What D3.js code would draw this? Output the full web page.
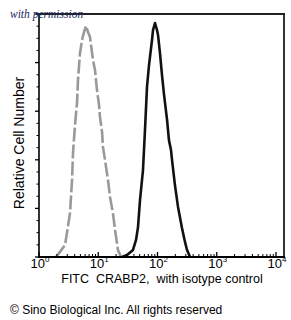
<!DOCTYPE html>
<html><head><meta charset="utf-8">
<script src="https://cdn.jsdelivr.net/npm/d3@7"></script>
<style>
html,body{margin:0;padding:0;background:#fff;}
svg{display:block;}
</style></head>
<body>
<script>
// Isotype control (grey dashed): fluorescence and relative count
const isoX = [1.94,2.26,2.75,3.34,3.61,3.75,4.05,4.38,4.55,4.92,5.32,5.75,6.21,6.71,7.26,7.55,8.15,8.81,9.16,9.53,10.3,10.7,11.6,12.0,13.0,14.6,15.8,17.7,19.2,21.5,24.2];
const isoY = [0,2.1,4.9,18.1,31.7,42.8,54.3,63.4,72.8,83.9,89.3,92.6,95.1,92.6,90.5,87.2,81.1,77.0,72.8,68.7,62.6,57.6,51.4,45.3,39.9,31.7,24.7,18.1,11.1,2.9,0];
// CRABP2 (black solid)
const crX = [25.2,30.6,38.6,43.4,46.9,50.7,56.9,61.5,66.5,71.9,80.8,84.0,90.8,98.1,102,110,119,129,145,156,169,176,197,222,259,291,315,354];
const crY = [0,0.8,2.9,7.0,12.3,23.5,35.8,52.3,70.0,79.0,89.3,93.4,96.3,93.4,91.4,84.0,74.9,66.7,56.4,48.1,44.0,39.9,29.6,20.6,11.9,6.2,2.9,0];
const xTickExps = [0,1,2,3,4];
const yMajor = [0,20,40,60,80,100];
const yMinor = [5,10,15,25,30,35,45,50,55,65,70,75,85,90,95];
const xLabel = "FITC  CRABP2,  with isotype control";
const yLabel = "Relative Cell Number";
const noteText = "with permission";
const copyText = "\u00A9 Sino Biological Inc. All rights reserved";

const W = 291, H = 320;
const L = 39, R = 284, T = 14, B = 257;
const svg = d3.select("body").append("svg").attr("width", W).attr("height", H);

const x = d3.scaleLog().domain([1, Math.pow(10, 4 + (R - L - 4*59.25)/59.25)]).range([L, R]);
const y = d3.scaleLinear().domain([0, 100]).range([B, T]);

// curves
const line = d3.line().x(d => x(d[0])).y(d => y(d[1]));
svg.append("path").datum(isoX.map((v,i)=>[v,isoY[i]]))
  .attr("d", line).attr("fill","none").attr("stroke","#999")
  .attr("stroke-width",2.6).attr("stroke-dasharray","14,3").attr("stroke-linejoin","round");
svg.append("path").datum(crX.map((v,i)=>[v,crY[i]]))
  .attr("d", line).attr("fill","none").attr("stroke","#111")
  .attr("stroke-width",2.6).attr("stroke-linejoin","round");

// x ticks (inward)
const minorX = [];
xTickExps.forEach(e => { if (e < 4) for (let k=2;k<=9;k++) minorX.push(k*Math.pow(10,e)); });
svg.append("g").selectAll("line").data(minorX).join("line")
  .attr("x1", d=>x(d)).attr("x2", d=>x(d)).attr("y1", B).attr("y2", B-3)
  .attr("stroke","#000").attr("stroke-width",1);
svg.append("g").selectAll("line").data(xTickExps).join("line")
  .attr("x1", d=>x(Math.pow(10,d))).attr("x2", d=>x(Math.pow(10,d))).attr("y1", B).attr("y2", B-5)
  .attr("stroke","#000").attr("stroke-width",1.3);

// y ticks (outward)
svg.append("g").selectAll("line").data(yMajor).join("line")
  .attr("x1", L-4).attr("x2", L).attr("y1", d=>y(d)).attr("y2", d=>y(d))
  .attr("stroke","#000").attr("stroke-width",1.3);
svg.append("g").selectAll("line").data(yMinor).join("line")
  .attr("x1", L-2.5).attr("x2", L).attr("y1", d=>y(d)).attr("y2", d=>y(d))
  .attr("stroke","#000").attr("stroke-width",1);

// frame
svg.append("line").attr("x1",L).attr("x2",L).attr("y1",T).attr("y2",B+1).attr("stroke","#000").attr("stroke-width",1.6);
svg.append("line").attr("x1",L-1).attr("x2",R+1).attr("y1",B).attr("y2",B).attr("stroke","#000").attr("stroke-width",2);
svg.append("line").attr("x1",R).attr("x2",R).attr("y1",T).attr("y2",B).attr("stroke","#000").attr("stroke-width",1.6);
svg.append("line").attr("x1",L-3).attr("x2",R+1).attr("y1",T).attr("y2",T).attr("stroke","#222").attr("stroke-width",2);

// x tick labels
const font = "Liberation Sans, Arial, sans-serif";
const lbl = svg.append("g").selectAll("text").data(xTickExps).join("text")
  .attr("x", d=>x(Math.pow(10,d))+1).attr("y", 268)
  .attr("text-anchor","middle").attr("font-family",font).attr("font-size",13).attr("fill","#000");
lbl.append("tspan").text("10");
lbl.append("tspan").attr("dy",-6).attr("font-size",8).text(d=>d);

// axis titles
svg.append("text").attr("x", 162).attr("y", 283).attr("text-anchor","middle")
  .attr("font-family",font).attr("font-size",12.5).attr("fill","#000")
  .style("white-space","pre").text(xLabel);
svg.append("text").attr("transform","translate(24,143) rotate(-90)").attr("text-anchor","middle")
  .attr("font-family",font).attr("font-size",14).attr("fill","#000").text(yLabel);

// note & copyright
svg.append("text").attr("x",10).attr("y",18).attr("font-family","Liberation Serif, Times New Roman, serif")
  .attr("font-style","italic").attr("font-size",11.5).attr("fill","#1a2860").text(noteText);
svg.append("text").attr("x",10).attr("y",314).attr("font-family",font)
  .attr("font-size",12).attr("fill","#000").text(copyText);
</script>
</body></html>
